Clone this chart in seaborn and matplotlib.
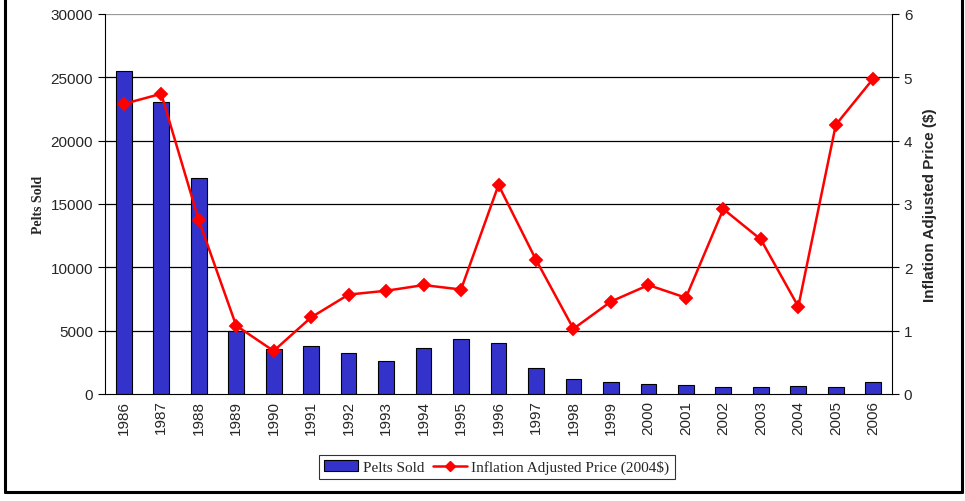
import matplotlib
matplotlib.use("Agg")
import matplotlib.pyplot as plt
import seaborn as sns
import numpy as np
import pandas as pd
from matplotlib.patches import Patch
from matplotlib.lines import Line2D

years = [str(y) for y in range(1986, 2007)]
pelts_sold = [25500, 23050, 17050, 5000, 3530, 3810, 3240, 2600, 3630, 4370, 4000,
              2030, 1160, 950, 790, 680, 530, 530, 610, 530, 950]
price = [4.58, 4.74, 2.75, 1.08, 0.68, 1.21, 1.57, 1.63, 1.72, 1.65, 3.30,
         2.12, 1.03, 1.46, 1.72, 1.52, 2.92, 2.44, 1.38, 4.25, 4.98]

df = pd.DataFrame({"year": years, "pelts": pelts_sold, "price": price})

sns.set_style("white")
plt.rcParams['font.family'] = ['Liberation Sans', 'DejaVu Sans']

fig = plt.figure(figsize=(9.65, 5.02), dpi=100)
ax = fig.add_axes([105/965, 1-395/502, 787/965, 380/502])

sns.barplot(data=df, x="year", y="pelts", ax=ax, color="#3333CC", width=0.42,
            edgecolor="black", linewidth=0.8, saturation=1)
for p in ax.patches:
    p.set_facecolor("#3333CC")

ax.set_ylim(0, 30000)
ax.set_xlim(-0.5, len(years)-0.5)
ax.set_yticks(np.arange(0, 30001, 5000))
ax.set_yticklabels([str(v) for v in range(0, 30001, 5000)], fontsize=11)
ax.set_xlabel("")
ax.set_ylabel("Pelts Sold", family=['Liberation Serif'], fontweight='bold', fontsize=10)
ax.yaxis.set_label_coords((45-105)/787, 0.5)
for v in range(5000, 30001, 5000):
    ax.axhline(v, color="black" if v < 30000 else "#999999", linewidth=0.9, zorder=0)

ax.tick_params(axis='x', which='major', length=0, labelrotation=90, labelsize=11, pad=4)
ax.set_xticks(np.arange(-0.5, len(years)), minor=True)
ax.tick_params(axis='x', which='minor', length=5, width=0.8, color='black', direction='out')
ax.tick_params(axis='y', length=5, width=0.8, color='black', direction='out', left=True)

ax.spines["top"].set_visible(False)
ax.spines["left"].set_color("black")
ax.spines["bottom"].set_color("black")
ax.spines["right"].set_visible(False)

ax2 = ax.twinx()
sns.pointplot(data=df, x="year", y="price", ax=ax2, color="red", markers="D",
              markersize=6.5, linewidth=1.8)
ax2.set_ylim(0, 6)
ax2.set_xlim(-0.5, len(years)-0.5)
ax2.set_yticks(range(0, 7))
ax2.set_yticklabels([str(v) for v in range(0, 7)], fontsize=11)
ax2.set_ylabel("Inflation Adjusted Price ($)", fontweight='bold', fontsize=11)
ax2.yaxis.set_label_coords((923-105)/787, 0.5)
ax2.tick_params(axis='y', length=5, width=0.8, color='black', direction='out', right=True)
ax2.spines["top"].set_visible(False)
ax2.spines["left"].set_visible(False)
ax2.spines["bottom"].set_visible(False)
ax2.spines["right"].set_color("black")
ax2.grid(False)

handles = [Patch(facecolor="#3333CC", edgecolor="black", linewidth=0.8),
           Line2D([0], [0], color="red", marker="D", markersize=5, linewidth=1.8)]
leg = fig.legend(handles, ["Pelts Sold", "Inflation Adjusted Price (2004$)"],
                 loc="center", bbox_to_anchor=(497/965, 1-468/502), ncol=2,
                 prop={'family': 'Liberation Serif', 'size': 11}, frameon=True,
                 fancybox=False, edgecolor="black", handlelength=2.2,
                 columnspacing=0.6, handletextpad=0.3, borderpad=0.35)
leg.get_frame().set_linewidth(0.8)

# outer frame (left, right, bottom)
fig.add_artist(Line2D([5/965, 5/965], [1-493/502, 1.0], color="black", linewidth=2.2, transform=fig.transFigure))
fig.add_artist(Line2D([962/965, 962/965], [1-493/502, 1.0], color="black", linewidth=2.2, transform=fig.transFigure))
fig.add_artist(Line2D([5/965, 962/965], [1-493/502, 1-493/502], color="black", linewidth=2.2, transform=fig.transFigure))

fig.savefig("out.png", dpi=100)
